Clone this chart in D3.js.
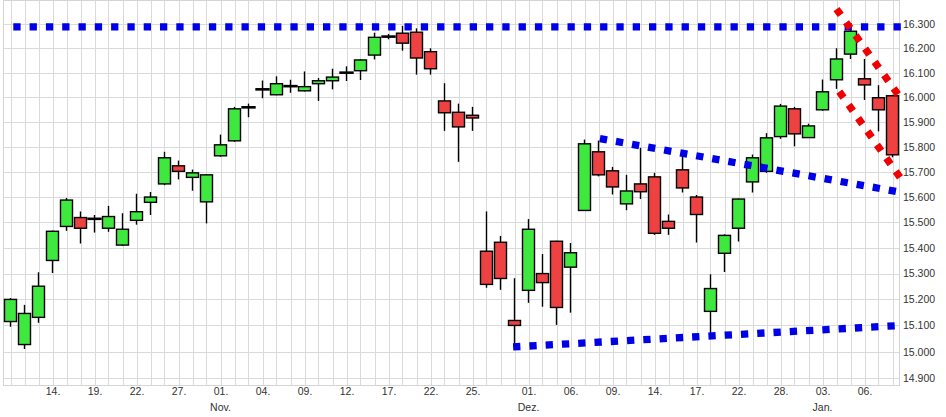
<!DOCTYPE html>
<html><head><meta charset="utf-8">
<script src="https://cdn.jsdelivr.net/npm/d3@7"></script>
<style>
html,body{margin:0;padding:0;background:#fff;}
svg{display:block;font-family:"Liberation Sans",Arial,sans-serif;}
</style>
</head><body>
<svg id="chart" width="946" height="417"></svg>
<script>
// ---- DATA ----
const dates = [
 "2021-10-11","2021-10-12","2021-10-13","2021-10-14","2021-10-15","2021-10-18","2021-10-19","2021-10-20",
 "2021-10-21","2021-10-22","2021-10-25","2021-10-26","2021-10-27","2021-10-28","2021-10-29","2021-11-01",
 "2021-11-02","2021-11-03","2021-11-04","2021-11-05","2021-11-08","2021-11-09","2021-11-10","2021-11-11",
 "2021-11-12","2021-11-15","2021-11-16","2021-11-17","2021-11-18","2021-11-19","2021-11-22","2021-11-23",
 "2021-11-24","2021-11-25","2021-11-26","2021-11-29","2021-11-30","2021-12-01","2021-12-02","2021-12-03",
 "2021-12-06","2021-12-07","2021-12-08","2021-12-09","2021-12-10","2021-12-13","2021-12-14","2021-12-15",
 "2021-12-16","2021-12-17","2021-12-20","2021-12-21","2021-12-22","2021-12-23","2021-12-27","2021-12-28",
 "2021-12-29","2021-12-30","2022-01-03","2022-01-04","2022-01-05","2022-01-06","2022-01-07","2022-01-10"];
const open  = [15115,15027,15131,15351,15484,15519,15514,15477,15411,15508,15579,15652,15724,15678,15581,15764,
 15824,15959,16032,16010,16045,16026,16055,16067,16100,16108,16172,16248,16262,16266,16186,15985,
 15939,15927,15387,15422,15119,15235,15300,15426,15325,15547,15780,15704,15573,15652,15680,15504,
 15708,15600,15154,15379,15477,15660,15702,15841,15953,15837,15949,16071,16176,16075,15998,16006];
const high  = [15205,15179,15305,15468,15596,15543,15529,15565,15536,15613,15620,15780,15745,15709,15690,15849,
 15961,15974,16068,16085,16071,16105,16078,16116,16126,16155,16264,16259,16292,16282,16200,16057,
 15974,15961,15543,15447,15282,15513,15376,15428,15419,15829,15825,15720,15688,15796,15696,15531,
 15773,15608,15297,15453,15594,15769,15855,15973,15961,15893,16072,16200,16280,16156,16049,16010];
const low   = [15095,15010,15110,15302,15467,15417,15460,15463,15408,15491,15529,15647,15670,15625,15496,15760,
 15820,15919,15996,16008,16018,16023,15985,16032,16066,16070,16154,16237,16190,16092,16092,15864,
 15740,15864,15245,15237,15017,15187,15172,15102,15149,15545,15682,15610,15548,15592,15451,15451,
 15618,15421,15060,15306,15425,15618,15696,15832,15802,15836,15945,16034,16156,15989,15862,15758];
const close = [15200,15146,15251,15465,15588,15477,15514,15523,15473,15542,15600,15756,15702,15696,15688,15808,
 15953,15959,16032,16055,16045,16043,16067,16082,16100,16152,16245,16248,16221,16160,16116,15937,
 15880,15916,15258,15281,15100,15473,15265,15169,15381,15812,15688,15640,15624,15621,15457,15477,
 15636,15531,15242,15449,15592,15756,15836,15964,15852,15884,16022,16156,16270,16050,15949,15768];
const yTicks = [14900,15000,15100,15200,15300,15400,15500,15600,15700,15800,15900,16000,16100,16200,16300];
const xTickIdx = [3,6,9,12,15,18,21,24,27,30,33,37,40,43,46,49,52,55,58,61];
const monthNames = ["Jan.","Feb.","März","Apr.","Mai","Juni","Juli","Aug.","Sep.","Okt.","Nov.","Dez."];
// trend lines: [slot index, value]
const resistanceLine = [[0.2,16288],[63.6,16288]];
const upperChannel   = [[42.1,15833],[63.6,15619]];
const supportLine    = [[35.9,15018],[63.6,15100]];
const redUpper       = [[59.0,16362],[63.6,15995]];
const redLower       = [[59.2,16023],[63.6,15673]];

// ---- CHART ----
const svg = d3.select("#chart");
const L = 3.5, R = 899.5, T = 0.5, B = 385.5;
const x = d3.scaleLinear().domain([0, 63]).range([10.5, 892.5]);
const y = d3.scaleLog().domain([14900, 16300]).range([378, 24]);
const de = d3.formatLocale({decimal: ",", thousands: ".", grouping: [3], currency: ["", "€"]});
const fmt = de.format(",");
const crisp = v => Math.round(v) + 0.5;

const grid = svg.append("g").attr("stroke", "#dadada").attr("stroke-width", 1);
grid.selectAll("line.h").data(yTicks).join("line")
  .attr("x1", L).attr("x2", R).attr("y1", d => crisp(y(d))).attr("y2", d => crisp(y(d)));
grid.selectAll("line.v").data(d3.range(dates.length)).join("line")
  .attr("y1", T).attr("y2", B).attr("x1", d => crisp(x(d))).attr("x2", d => crisp(x(d)));
svg.append("rect").attr("x", L).attr("y", T).attr("width", R - L).attr("height", B - T)
  .attr("fill", "none").attr("stroke", "#d4d4d4");

// y axis labels
const yAxis = d3.axisRight(y).tickValues(yTicks).tickFormat(fmt).tickSize(0).tickPadding(0);
const gy = svg.append("g").attr("transform", `translate(903,0)`).call(yAxis);
gy.select(".domain").remove();
gy.selectAll("text").attr("font-size", "10.5px").attr("fill", "#333").attr("font-family", "'Liberation Sans', Arial, sans-serif");

// x axis labels
const parse = d3.timeParse("%Y-%m-%d");
const xAxis = d3.axisBottom(x).tickValues(xTickIdx)
  .tickFormat(i => d3.timeFormat("%d")(parse(dates[i])) + ".").tickSize(0).tickPadding(0);
const gx = svg.append("g").attr("transform", `translate(0,388)`).call(xAxis);
gx.select(".domain").remove();
gx.selectAll("text").attr("font-size", "10.5px").attr("fill", "#333").attr("font-family", "'Liberation Sans', Arial, sans-serif");
const monthIdx = xTickIdx.filter(i => i > 0 && parse(dates[i]).getMonth() !== parse(dates[i - 1]).getMonth());
svg.append("g").selectAll("text").data(monthIdx).join("text")
  .attr("x", i => x(i)).attr("y", 410.5).attr("text-anchor", "middle")
  .attr("font-size", "10.5px").attr("fill", "#333")
  .text(i => monthNames[parse(dates[i]).getMonth()]);

// candles
const idx = d3.range(dates.length);
const cg = svg.append("g");
cg.selectAll("line.wick").data(idx).join("line")
  .attr("x1", i => x(i)).attr("x2", i => x(i))
  .attr("y1", i => y(high[i])).attr("y2", i => y(low[i]))
  .attr("stroke", "#000").attr("stroke-width", 1.4);
const bw = 12;
cg.selectAll("rect.body").data(idx.filter(i => open[i] !== close[i])).join("rect")
  .attr("x", i => x(i) - bw / 2)
  .attr("y", i => y(Math.max(open[i], close[i])))
  .attr("width", bw)
  .attr("height", i => Math.max(1, y(Math.min(open[i], close[i])) - y(Math.max(open[i], close[i]))))
  .attr("fill", i => close[i] > open[i] ? "#3ee83e" : "#ee4242")
  .attr("stroke", "#000").attr("stroke-width", 1.4);
cg.selectAll("rect.doji").data(idx.filter(i => open[i] === close[i])).join("rect")
  .attr("x", i => x(i) - 7.2).attr("y", i => y(open[i]) - 1.3)
  .attr("width", 14.4).attr("height", 2.6).attr("fill", "#000");

// trend lines
const line = d3.line().x(d => x(d[0])).y(d => y(d[1]));
const tl = svg.append("g").attr("fill", "none").attr("stroke-width", 7.3).attr("stroke-dasharray", "7.3 9");
[[resistanceLine, "#0000e8"], [upperChannel, "#0000e8"], [supportLine, "#0000e8"],
 [redUpper, "#f00000"], [redLower, "#f00000"]].forEach(([d, c]) => {
  tl.append("path").attr("d", line(d)).attr("stroke", c);
});
</script>
</body></html>
